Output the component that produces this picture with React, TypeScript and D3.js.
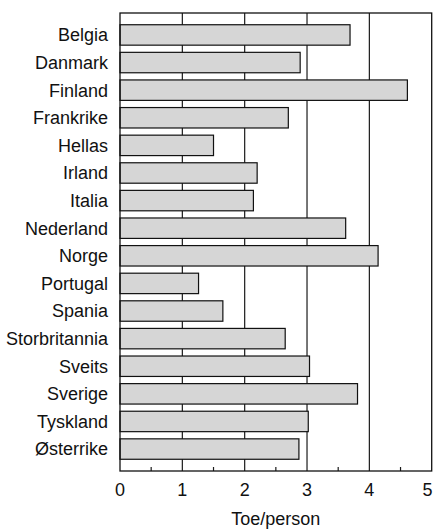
import React, { useEffect, useRef } from "react";
import * as d3 from "d3";

// energy use per person
const countries = [
  "Belgia",
  "Danmark",
  "Finland",
  "Frankrike",
  "Hellas",
  "Irland",
  "Italia",
  "Nederland",
  "Norge",
  "Portugal",
  "Spania",
  "Storbritannia",
  "Sveits",
  "Sverige",
  "Tyskland",
  "Østerrike"
];
const values = [3.69, 2.89, 4.61, 2.7, 1.5, 2.2, 2.14, 3.62, 4.14, 1.26, 1.65, 2.65, 3.04, 3.81, 3.02, 2.87];
const xTicks = [0, 1, 2, 3, 4, 5];
const minorTicks = [0.5, 1.5, 2.5, 3.5, 4.5];
const xLabel = "Toe/person";

document.body.style.margin = "0";

export default function App() {
  const ref = useRef<SVGSVGElement>(null);

  const width = 434;
  const height = 531;
  const margin = { top: 13, right: 2.3, bottom: 60, left: 120 };
  const font = "'Liberation Sans', Arial, sans-serif";

  useEffect(() => {
    const svg = d3.select(ref.current);
    svg.selectAll("*").remove();

    const x = d3
      .scaleLinear()
      .domain([0, 5])
      .range([margin.left, width - margin.right]);
    const y = d3
      .scaleBand()
      .domain(countries)
      .range([margin.top, height - margin.bottom])
      .paddingInner(0.26)
      .paddingOuter(0.425);

    const top = margin.top;
    const bottom = height - margin.bottom;

    // grid lines
    svg
      .append("g")
      .selectAll("line")
      .data(xTicks.slice(1, -1))
      .enter()
      .append("line")
      .attr("x1", (d) => x(d))
      .attr("x2", (d) => x(d))
      .attr("y1", top)
      .attr("y2", bottom)
      .attr("stroke", "#1a1a1a")
      .attr("stroke-width", 1.2);

    // minor ticks on the bottom edge
    svg
      .append("g")
      .selectAll("line")
      .data(minorTicks)
      .enter()
      .append("line")
      .attr("x1", (d) => x(d))
      .attr("x2", (d) => x(d))
      .attr("y1", bottom)
      .attr("y2", bottom - 4)
      .attr("stroke", "#1a1a1a")
      .attr("stroke-width", 1.2);

    // bars
    svg
      .append("g")
      .selectAll("rect")
      .data(values)
      .enter()
      .append("rect")
      .attr("x", x(0))
      .attr("y", (d, i) => y(countries[i])!)
      .attr("width", (d) => x(d) - x(0))
      .attr("height", y.bandwidth())
      .attr("fill", "#d6d6d6")
      .attr("stroke", "#111")
      .attr("stroke-width", 1.2);

    // frame
    svg
      .append("rect")
      .attr("x", x(0))
      .attr("y", top)
      .attr("width", x(5) - x(0))
      .attr("height", bottom - top)
      .attr("fill", "none")
      .attr("stroke", "#111")
      .attr("stroke-width", 1.3);

    // category labels
    svg
      .append("g")
      .selectAll("text")
      .data(countries)
      .enter()
      .append("text")
      .attr("x", margin.left - 12)
      .attr("y", (d) => y(d)! + y.bandwidth() / 2 + 6.4)
      .attr("text-anchor", "end")
      .attr("font-family", font)
      .attr("font-size", 18)
      .attr("fill", "#111")
      .text((d) => d);

    // tick labels (last one nudged in so it stays on the page)
    svg
      .append("g")
      .selectAll("text")
      .data(xTicks)
      .enter()
      .append("text")
      .attr("x", (d) => Math.min(x(d), width - 6.5))
      .attr("y", bottom + 25)
      .attr("text-anchor", "middle")
      .attr("font-family", font)
      .attr("font-size", 18)
      .attr("fill", "#111")
      .text((d) => d);

    svg
      .append("text")
      .attr("x", (x(0) + x(5)) / 2)
      .attr("y", bottom + 54)
      .attr("text-anchor", "middle")
      .attr("font-family", font)
      .attr("font-size", 18)
      .attr("fill", "#111")
      .text(xLabel);
  }, []);

  return <svg ref={ref} width={width} height={height} style={{ display: "block", background: "#fff" }} />;
}
